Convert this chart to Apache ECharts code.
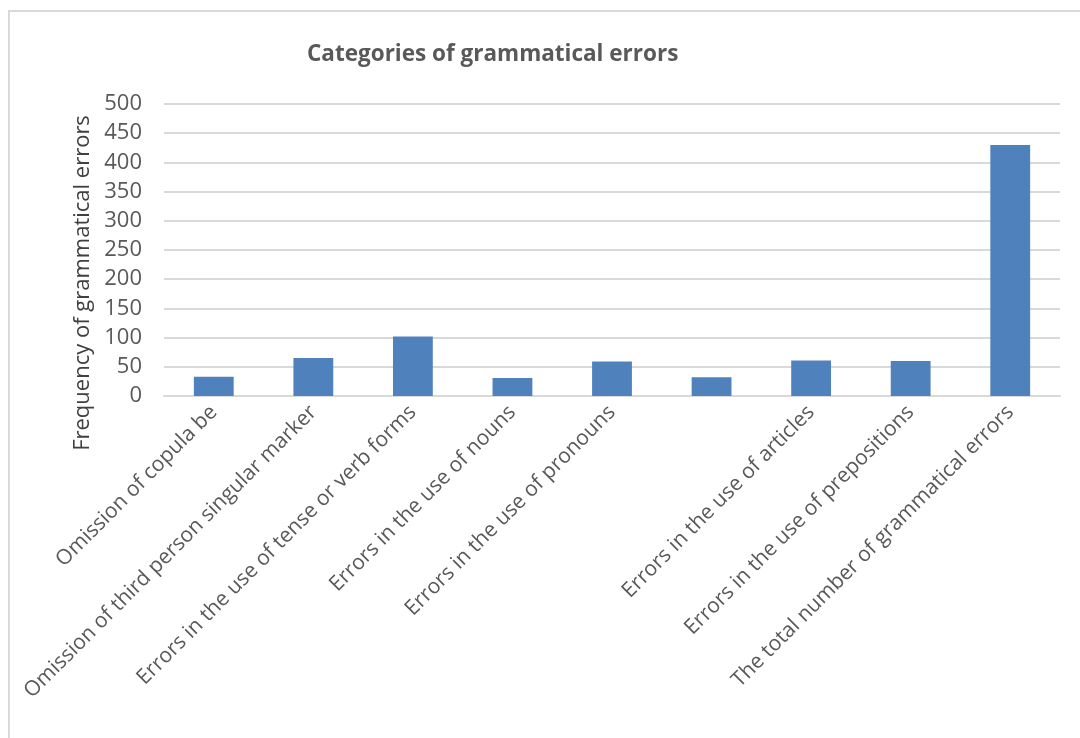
<!DOCTYPE html>
<html>
<head>
<meta charset="utf-8">
<title>Categories of grammatical errors</title>
<script src="https://cdn.jsdelivr.net/npm/echarts@6/dist/echarts.min.js"></script>
<style>
  html, body { margin: 0; padding: 0; background: #fff; }
  #chart { width: 1080px; height: 738px; }
</style>
</head>
<body>
<div id="chart"></div>
<script>
// data
const categories = [
  'Omission of copula be',
  'Omission of third person singular marker',
  'Errors in the use of tense or verb forms',
  'Errors in the use of nouns',
  'Errors in the use of pronouns',
  '',
  'Errors in the use of articles',
  'Errors in the use of prepositions',
  'The total number of grammatical errors'
];
const frequencies = [33, 65, 102, 31, 59, 32, 61, 60, 430];

const textColor = '#595959';
const gridColor = '#D9D9D9';
const barColor = '#4F81BD';
const font = '"Open Sans", "DejaVu Sans", sans-serif';

const chart = echarts.init(document.getElementById('chart'));

chart.setOption({
  animation: false,
  backgroundColor: '#fff',
  title: {
    text: 'Categories of grammatical errors',
    left: 302,
    top: 38,
    textStyle: { color: textColor, fontFamily: font, fontSize: 22.5, fontWeight: 'bold' }
  },
  graphic: [{
    type: 'rect',
    shape: { x: 9, y: 11, width: 1200, height: 900 },
    style: { fill: 'none', stroke: gridColor, lineWidth: 2 },
    silent: true
  }],
  grid: { left: 164, right: 20, top: 104, bottom: 342, containLabel: false },
  xAxis: {
    type: 'category',
    data: categories,
    axisLine: { show: true, lineStyle: { color: gridColor, width: 2 } },
    axisTick: { show: false },
    axisLabel: {
      interval: 0,
      rotate: 45,
      margin: 13,
      color: textColor,
      fontFamily: font,
      fontSize: 21
    }
  },
  yAxis: {
    type: 'value',
    min: 0,
    max: 500,
    interval: 50,
    name: 'Frequency of grammatical errors',
    nameLocation: 'middle',
    nameGap: 62,
    nameTextStyle: {
      color: '#404040',
      fontFamily: font,
      fontSize: 22,
      padding: [0, 66, 0, 0]
    },
    axisLine: { show: false },
    axisTick: { show: false },
    axisLabel: { color: textColor, fontFamily: font, fontSize: 22, margin: 22 },
    splitLine: { lineStyle: { color: gridColor, width: 2 } }
  },
  series: [{
    type: 'bar',
    data: frequencies,
    barWidth: '40%',
    itemStyle: { color: barColor }
  }]
});
</script>
</body>
</html>
